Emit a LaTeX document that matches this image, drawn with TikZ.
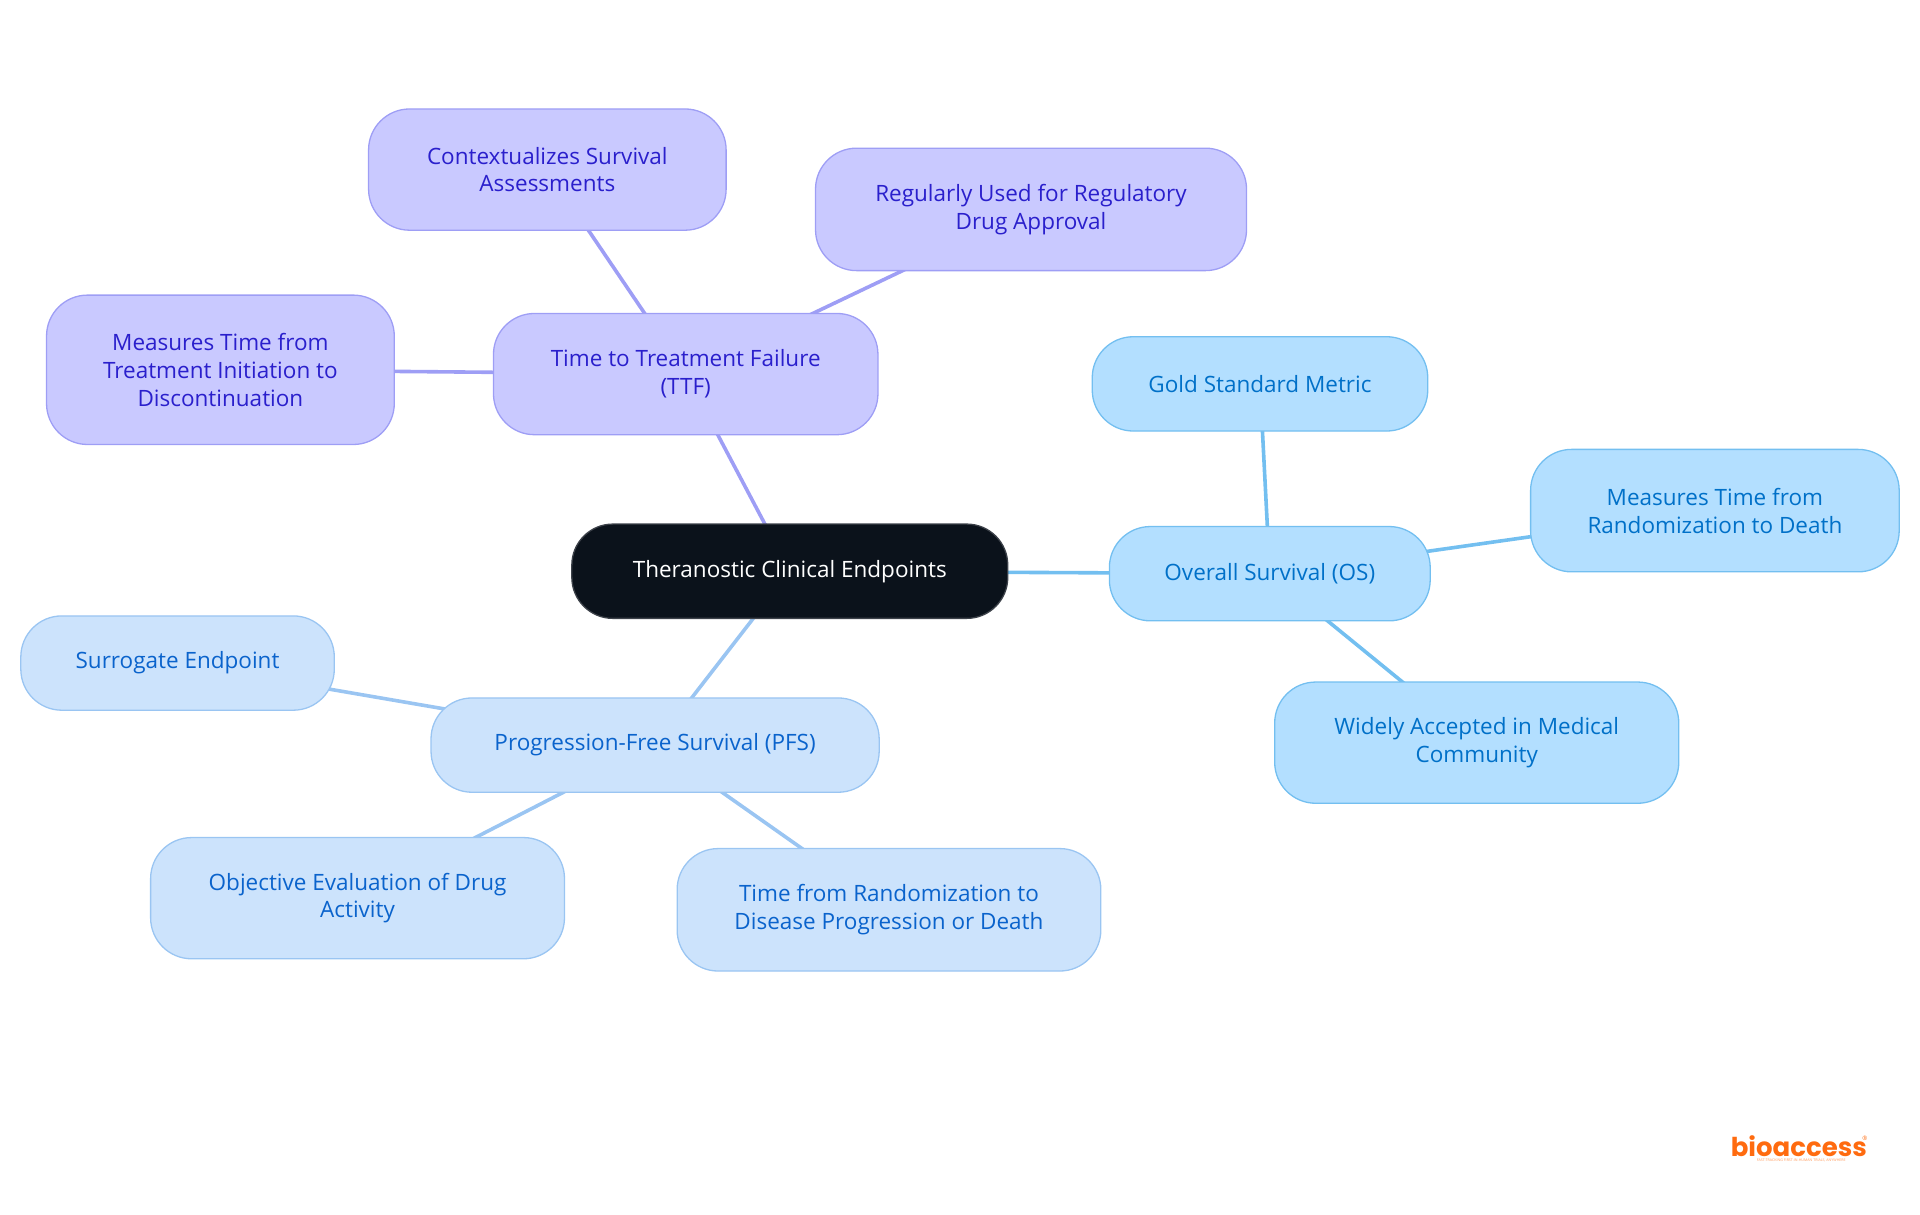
\documentclass[tikz,border=0pt]{standalone}
\usepackage{fontspec}
\setmainfont{Open Sans}
\newfontfamily\logofont{Poppins}[UprightFont=* Bold]
\usetikzlibrary{backgrounds}
\definecolor{rootfill}{HTML}{0B121B}
\definecolor{purfill}{HTML}{C9C9FF}\definecolor{purline}{HTML}{9E9EF5}\definecolor{purtext}{HTML}{2A1FCC}
\definecolor{osfill}{HTML}{B3DFFF}\definecolor{osline}{HTML}{73BFF0}\definecolor{ostext}{HTML}{0070C8}
\definecolor{pfsfill}{HTML}{CCE3FC}\definecolor{pfsline}{HTML}{9AC5F2}\definecolor{pfstext}{HTML}{0A63CC}
\definecolor{logoorange}{HTML}{FF6B0F}
\tikzset{
  x=1.2245pt,y=-1.2245pt,
  box/.style n args={2}{rectangle,draw,line width=1.3pt,rounded corners=41pt,inner sep=0pt,align=center,
    minimum width=#1*1.2245pt,minimum height=#2*1.2245pt,
    font=\fontsize{22.5}{27.8}\selectfont},
  rootbox/.style={fill=rootfill,draw=rootfill!80!white,text=white},
  purbox/.style={fill=purfill,draw=purline,text=purtext},
  osbox/.style={fill=osfill,draw=osline,text=ostext},
  pfsbox/.style={fill=pfsfill,draw=pfsline,text=pfstext},
  purlink/.style={draw=purline,line width=3.6pt},
  oslink/.style={draw=osline,line width=3.6pt},
  pfslink/.style={draw=pfsline,line width=3.6pt},
}
\begin{document}
\begin{tikzpicture}
\useasboundingbox (0,0) rectangle (1568,992.25);
\node[box={356}{77},rootbox] (root) at (645,466.5) {Theranostic Clinical Endpoints};
\node[box={314}{99},purbox] (ttf) at (560,305.5) {Time to Treatment Failure\\(TTF)};
\node[box={292}{99},purbox] (ctx) at (447,138.5) {Contextualizes Survival\\Assessments};
\node[box={352}{100},purbox] (reg) at (842,171) {Regularly Used for Regulatory\\Drug Approval};
\node[box={284}{122},purbox] (mtt) at (180,302) {Measures Time from\\Treatment Initiation to\\Discontinuation};
\node[box={262}{77},osbox] (os) at (1037,468.5) {Overall Survival (OS)};
\node[box={274}{77},osbox] (gold) at (1029,313.5) {Gold Standard Metric};
\node[box={301}{100},osbox] (mtr) at (1400.5,417) {Measures Time from\\Randomization to Death};
\node[box={330}{99},osbox] (wide) at (1206,606.5) {Widely Accepted in Medical\\Community};
\node[box={366}{77},pfsbox] (pfs) at (535,608.5) {Progression-Free Survival (PFS)};
\node[box={256}{77},pfsbox] (surr) at (145,541.5) {Surrogate Endpoint};
\node[box={338}{99},pfsbox] (obj) at (292,733.5) {Objective Evaluation of Drug\\Activity};
\node[box={346}{100},pfsbox] (time) at (726,743) {Time from Randomization to\\Disease Progression or Death};
\begin{pgfonlayer}{background}
\draw[purlink] (root.center) -- (ttf.center);
\draw[purlink] (ttf.center) -- (ctx.center);
\draw[purlink] (ttf.center) -- (reg.center);
\draw[purlink] (ttf.center) -- (mtt.center);
\draw[oslink] (root.center) -- (os.center);
\draw[oslink] (os.center) -- (gold.center);
\draw[oslink] (os.center) -- (mtr.center);
\draw[oslink] (os.center) -- (wide.center);
\draw[pfslink] (root.center) -- (pfs.center);
\draw[pfslink] (pfs.center) -- (surr.center);
\draw[pfslink] (pfs.center) -- (obj.center);
\draw[pfslink] (pfs.center) -- (time.center);
\end{pgfonlayer}
\node[text=logoorange,inner sep=0pt,font=\logofont\fontsize{26}{26}\selectfont] (logo) at (1469,936) {bioaccess};
\node[text=logoorange,inner sep=0pt,font=\fontsize{6}{6}\selectfont] (reg2) at (1523,930) {®};
\node[text=logoorange!70!white,inner sep=0pt,font=\fontsize{3.6}{4}\selectfont] (tag) at (1471,948) {FAST-TRACKING FIRST-IN-HUMAN TRIALS, ANYWHERE};
\end{tikzpicture}
\end{document}
